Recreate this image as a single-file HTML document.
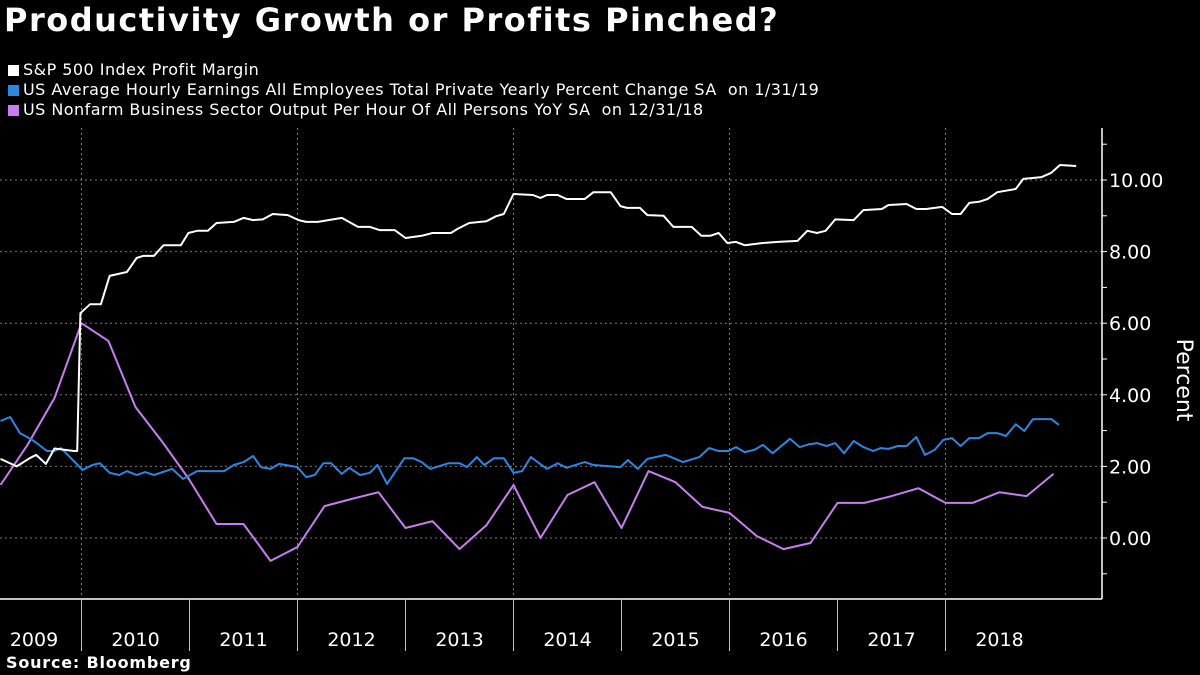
<!DOCTYPE html>
<html><head><meta charset="utf-8"><style>
html,body{margin:0;padding:0;background:#000;}
body{width:1200px;height:675px;overflow:hidden;position:relative;font-family:"DejaVu Sans","Liberation Sans",sans-serif;color:#fff;}
.title{position:absolute;left:4px;top:1px;font-size:32px;font-weight:bold;letter-spacing:1.5px;}
.leg{position:absolute;left:8px;font-size:16px;white-space:pre;letter-spacing:0.47px;}
.leg i{display:inline-block;width:11px;height:11px;margin-right:4px;vertical-align:-1px;}
.src{position:absolute;left:6px;top:653px;font-size:16px;font-weight:bold;letter-spacing:0.8px;}
</style></head><body>
<div class="title">Productivity Growth or Profits Pinched?</div>
<div class="leg" style="top:60px"><i style="background:#fff"></i>S&amp;P 500 Index Profit Margin</div>
<div class="leg" style="top:80px"><i style="background:#2d86e0"></i>US Average Hourly Earnings All Employees Total Private Yearly Percent Change SA  on 1/31/19</div>
<div class="leg" style="top:100px"><i style="background:#c77ef0"></i>US Nonfarm Business Sector Output Per Hour Of All Persons YoY SA  on 12/31/18</div>
<svg id="chart" width="1200" height="675" style="position:absolute;left:0;top:0"></svg>
<div class="src">Source: Bloomberg</div>
<script>
const whiteDates=[2009.25,2009.40,2009.52,2009.58,2009.67,2009.75,2009.93,2009.96,2009.99,2010.08,2010.18,2010.26,2010.42,2010.51,2010.57,2010.67,2010.76,2010.92,2010.99,2011.07,2011.17,2011.25,2011.41,2011.50,2011.59,2011.68,2011.77,2011.91,2012.01,2012.08,2012.19,2012.41,2012.56,2012.67,2012.76,2012.90,2013.00,2013.15,2013.25,2013.42,2013.48,2013.59,2013.75,2013.84,2013.91,2014.00,2014.18,2014.25,2014.31,2014.41,2014.49,2014.66,2014.74,2014.90,2014.99,2015.05,2015.17,2015.24,2015.39,2015.48,2015.65,2015.74,2015.82,2015.90,2015.98,2016.06,2016.14,2016.31,2016.45,2016.63,2016.72,2016.81,2016.89,2016.98,2017.15,2017.24,2017.41,2017.47,2017.64,2017.73,2017.82,2017.97,2018.06,2018.14,2018.22,2018.31,2018.39,2018.48,2018.65,2018.72,2018.89,2018.98,2019.06,2019.21];
const whiteValues=[2.21,2.0,2.23,2.32,2.07,2.5,2.43,2.43,6.28,6.53,6.53,7.32,7.43,7.82,7.88,7.88,8.18,8.18,8.52,8.58,8.58,8.8,8.83,8.94,8.88,8.9,9.05,9.02,8.88,8.83,8.83,8.94,8.69,8.69,8.6,8.6,8.38,8.44,8.52,8.52,8.63,8.8,8.85,8.99,9.05,9.61,9.58,9.5,9.58,9.58,9.47,9.47,9.66,9.66,9.27,9.22,9.22,9.02,9.0,8.69,8.69,8.44,8.44,8.52,8.24,8.27,8.18,8.24,8.27,8.3,8.58,8.52,8.58,8.9,8.88,9.16,9.19,9.3,9.33,9.19,9.19,9.25,9.05,9.05,9.36,9.39,9.47,9.66,9.75,10.03,10.08,10.2,10.42,10.39];
const blueDates=[2009.25,2009.34,2009.43,2009.56,2009.68,2009.75,2009.81,2010.01,2010.10,2010.17,2010.26,2010.35,2010.42,2010.51,2010.59,2010.67,2010.84,2010.94,2011.07,2011.32,2011.41,2011.50,2011.59,2011.66,2011.75,2011.83,2012.00,2012.08,2012.16,2012.24,2012.31,2012.41,2012.48,2012.58,2012.67,2012.74,2012.83,2012.99,2013.07,2013.15,2013.23,2013.40,2013.50,2013.57,2013.66,2013.73,2013.82,2013.91,2014.00,2014.08,2014.16,2014.31,2014.41,2014.49,2014.66,2014.74,2014.99,2015.06,2015.15,2015.24,2015.41,2015.57,2015.72,2015.81,2015.90,2015.99,2016.06,2016.14,2016.23,2016.31,2016.40,2016.56,2016.65,2016.74,2016.81,2016.90,2016.98,2017.06,2017.15,2017.24,2017.33,2017.40,2017.47,2017.56,2017.64,2017.73,2017.81,2017.90,2017.98,2018.06,2018.14,2018.22,2018.31,2018.39,2018.48,2018.56,2018.65,2018.73,2018.81,2018.98,2019.05];
const blueValues=[3.27,3.38,2.93,2.71,2.43,2.43,2.51,1.9,2.04,2.09,1.82,1.76,1.87,1.76,1.84,1.76,1.93,1.65,1.87,1.87,2.04,2.12,2.29,1.98,1.93,2.07,1.98,1.7,1.76,2.09,2.09,1.79,1.96,1.76,1.82,2.04,1.51,2.23,2.23,2.12,1.93,2.09,2.09,1.98,2.26,2.04,2.23,2.23,1.82,1.87,2.26,1.93,2.09,1.96,2.12,2.04,1.98,2.18,1.93,2.21,2.32,2.12,2.26,2.51,2.43,2.43,2.54,2.4,2.46,2.6,2.37,2.77,2.54,2.62,2.65,2.57,2.65,2.37,2.71,2.54,2.43,2.51,2.49,2.57,2.57,2.82,2.32,2.46,2.74,2.79,2.57,2.79,2.79,2.93,2.93,2.85,3.18,2.99,3.32,3.32,3.16];
const purpleStart=2009.25;
const purpleValues=[1.48,2.6,3.91,6.0,5.5,3.66,2.68,1.62,0.39,0.39,-0.64,-0.25,0.89,1.09,1.28,0.28,0.47,-0.31,0.36,1.48,0,1.2,1.56,0.28,1.87,1.56,0.87,0.7,0.06,-0.31,-0.14,0.98,0.98,1.17,1.39,0.98,0.98,1.28,1.17,1.79];
const yTicks=[0,2,4,6,8,10];
const yTickLabels=["0.00","2.00","4.00","6.00","8.00","10.00"];
const years=[2009,2010,2011,2012,2013,2014,2015,2016,2017,2018];
const gridYears=[2010,2012,2014,2016,2018];

const NS="http://www.w3.org/2000/svg";
const svg=document.getElementById('chart');
const FONT='DejaVu Sans, Liberation Sans, sans-serif';
const X=t=>81.5+(t-2010)*108;
const Y=v=>538-v*35.8;
function mk(tag,attrs,parent){const e=document.createElementNS(NS,tag);for(const k in attrs)e.setAttribute(k,attrs[k]);(parent||svg).appendChild(e);return e;}
yTicks.forEach((v,i)=>{
  const g=mk('line',{x1:0,x2:1102,y1:Y(v),y2:Y(v),stroke:'#777','stroke-width':1,'stroke-dasharray':'2,3'});
  
  
  const t=mk('text',{x:1109,y:Y(v)+7,fill:'#fff','font-size':19,'font-family':FONT});
  t.textContent=yTickLabels[i];
  
  
});
for(let v=-1;v<=11;v++){
  const tk=mk('line',{x1:1102,x2:1107,y1:Y(v),y2:Y(v),stroke:'#fff','stroke-width':1});
  
  
}
gridYears.forEach(yr=>{
  const g=mk('line',{x1:X(yr),x2:X(yr),y1:128,y2:598,stroke:'#777','stroke-width':1,'stroke-dasharray':'2,3'});
  
  
});
const ya=mk('line',{x1:1102,x2:1102,y1:128,y2:599,stroke:'#fff','stroke-width':1.5});


const xa=mk('line',{x1:0,x2:1102,y1:599,y2:599,stroke:'#fff','stroke-width':1.5});


years.forEach(yr=>{
  if(yr>2009){const d=mk('line',{x1:X(yr),x2:X(yr),y1:599,y2:651,stroke:'#bbb','stroke-width':1});
  
  }
  const l=mk('text',{x:Math.max(X(yr+0.5),34),y:646,fill:'#fff','font-size':19,'text-anchor':'middle','font-family':FONT});
  l.textContent=yr;
  
  
});
const yl=mk('text',{x:0,y:0,fill:'#fff','font-size':22,'text-anchor':'middle',transform:'translate(1177,380) rotate(90)','font-family':FONT});
yl.textContent='Percent';


function line(dates,vals,color,name){
  const p=mk('polyline',{points:dates.map((d,i)=>X(d).toFixed(1)+','+Y(vals[i]).toFixed(1)).join(' '),fill:'none',stroke:color,'stroke-width':2,'stroke-linejoin':'round'});
  
  
}
const purpleDates=purpleValues.map((_,i)=>purpleStart+i*0.25);
line(purpleDates,purpleValues,'#c77ef0','productivity-line');
line(blueDates,blueValues,'#2d86e0','hourly-earnings-line');
line(whiteDates,whiteValues,'#ffffff','profit-margin-line');
</script>
</body></html>
